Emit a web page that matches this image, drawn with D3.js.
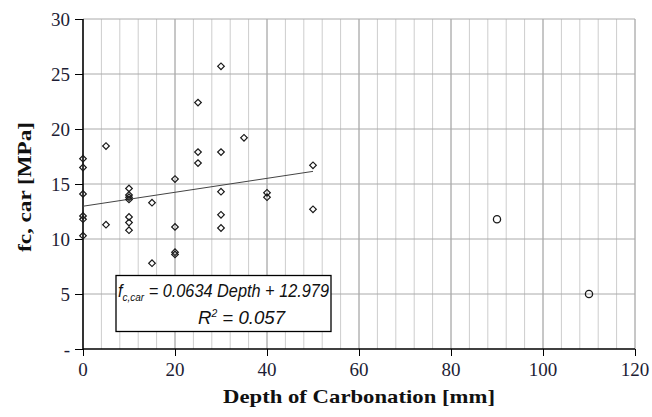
<!DOCTYPE html>
<html>
<head>
<meta charset="utf-8">
<script src="https://cdn.jsdelivr.net/npm/d3@7"></script>
<style>
  html, body { margin: 0; padding: 0; background: #fff; }
  svg { display: block; }
</style>
</head>
<body>
<svg id="chart" width="652" height="417"></svg>
<script>
// ---- data ----
const depthDiamond = [0,0,0,0,0,0, 5,5, 10,10,10,10,10,10,10, 15,15, 20,20,20,20, 25,25,25, 30,30,30,30,30, 35, 40,40, 50,50];
const fcDiamond    = [17.3,16.5,14.1,12.1,11.8,10.3, 18.45,11.3, 14.6,14.0,13.8,13.6,12.0,11.5,10.8, 13.3,7.8, 15.45,11.1,8.8,8.6, 22.4,17.9,16.9, 25.7,17.9,14.3,12.2,11.0, 19.2, 14.2,13.8, 16.7,12.7];
const depthCircle  = [90, 110];
const fcCircle     = [11.8, 5.0];
const trendX       = [0, 50];
const slope = 0.0634, intercept = 12.979;
const xTicks = [0,20,40,60,80,100,120];
const yTicks = [0,5,10,15,20,25,30];
const yTickLabels = ["-","5","10","15","20","25","30"];
const xMinor = d3.range(0, 121, 4);

// ---- layout ----
const svg = d3.select("#chart");
const X0 = 83, X1 = 635, Y0 = 349, Y1 = 19;
const x = d3.scaleLinear().domain([0,120]).range([X0, X1]);
const y = d3.scaleLinear().domain([0,30]).range([Y0, Y1]);
const textCol = "#1d1d35";
const serif = "'Liberation Serif', 'Times New Roman', serif";

// minor vertical grid
svg.append("g").selectAll("line").data(xMinor.filter(v => v % 20 !== 0)).join("line")
  .attr("x1", d => x(d)).attr("x2", d => x(d)).attr("y1", Y0).attr("y2", Y1)
  .attr("stroke", "#cdcdcd").attr("stroke-width", 1);
// major vertical grid
svg.append("g").selectAll("line").data(xTicks.filter(v => v > 0)).join("line")
  .attr("x1", d => x(d)).attr("x2", d => x(d)).attr("y1", Y0).attr("y2", Y1)
  .attr("stroke", "#8e8e8e").attr("stroke-width", 1);
// horizontal grid
svg.append("g").selectAll("line").data(yTicks.filter(v => v > 0)).join("line")
  .attr("x1", X0).attr("x2", X1).attr("y1", d => y(d)).attr("y2", d => y(d))
  .attr("stroke", "#aaaaaa").attr("stroke-width", 1);

// axes (lines and tick marks)
const yAxis = d3.axisLeft(y).tickValues(yTicks).tickFormat("").tickSize(8);
const gy = svg.append("g").attr("transform", `translate(${X0},0)`).call(yAxis);
const xAxis = d3.axisBottom(x).tickValues(xTicks).tickFormat("").tickSize(7);
const gx = svg.append("g").attr("transform", `translate(0,${Y0})`).call(xAxis);
[gx, gy].forEach(g => {
  g.select(".domain").attr("stroke", "#000").attr("stroke-width", 1.6);
  g.selectAll(".tick line").attr("stroke", "#000").attr("stroke-width", 1);
});
gy.select(".domain").attr("d", `M0,${Y0}V${Y1}`);
gx.select(".domain").attr("d", `M${X0},0H${X1}`);

// tick labels
svg.append("g").selectAll("text").data(yTicks).join("text")
  .attr("x", X0 - 13).attr("y", d => y(d) + 6.5).attr("text-anchor", "end")
  .style("font-family", serif).style("font-size", "19px").attr("fill", textCol)
  .text((d,i) => yTickLabels[i]);
svg.append("g").selectAll("text").data(xTicks).join("text")
  .attr("x", d => x(d)).attr("y", 376).attr("text-anchor", "middle")
  .style("font-family", serif).style("font-size", "19px").attr("fill", textCol)
  .text(d => d);

// trend line
svg.append("line")
  .attr("x1", x(trendX[0])).attr("y1", y(intercept + slope*trendX[0]))
  .attr("x2", x(trendX[1])).attr("y2", y(intercept + slope*trendX[1]))
  .attr("stroke", "#444").attr("stroke-width", 1);

// diamonds
const dia = d3.symbol().type(d3.symbolSquare).size(22);
svg.append("g").selectAll("path").data(depthDiamond.map((d,i) => [d, fcDiamond[i]])).join("path")
  .attr("d", dia)
  .attr("transform", d => `translate(${x(d[0])},${y(d[1])}) rotate(45)`)
  .attr("fill", "none").attr("stroke", "#1a1a1a").attr("stroke-width", 1.2);

// circles
svg.append("g").selectAll("circle").data(depthCircle.map((d,i) => [d, fcCircle[i]])).join("circle")
  .attr("cx", d => x(d[0])).attr("cy", d => y(d[1])).attr("r", 3.6)
  .attr("fill", "none").attr("stroke", "#1a1a1a").attr("stroke-width", 1.3);

// equation box
svg.append("rect").attr("x", 116).attr("y", 275.5).attr("width", 215).attr("height", 56)
  .attr("fill", "#fff").attr("stroke", "#000").attr("stroke-width", 1.3);
const eqFont = "'Liberation Sans', Arial, sans-serif";
const t1 = svg.append("text").attr("x", 118).attr("y", 297)
  .attr("textLength", 211).attr("lengthAdjust", "spacingAndGlyphs")
  .style("font-family", eqFont).style("font-style", "italic").style("font-size", "18px").attr("fill", "#111");
t1.append("tspan").text("f");
t1.append("tspan").attr("dy", 4).style("font-size", "11px").text("c,car");
t1.append("tspan").attr("dy", -4).text(` = ${slope} Depth + ${intercept}`);
const t2 = svg.append("text").attr("x", 198).attr("y", 324)
  .attr("textLength", 87).attr("lengthAdjust", "spacingAndGlyphs")
  .style("font-family", eqFont).style("font-style", "italic").style("font-size", "18px").attr("fill", "#111");
t2.append("tspan").text("R");
t2.append("tspan").attr("dy", -7).style("font-size", "10px").text("2");
t2.append("tspan").attr("dy", 7).text(" = 0.057");

// axis titles
svg.append("text").attr("x", 223).attr("y", 403)
  .attr("textLength", 272).attr("lengthAdjust", "spacingAndGlyphs")
  .style("font-family", serif).style("font-weight", "bold").style("font-size", "19px")
  .attr("fill", "#111").text("Depth of Carbonation [mm]");
svg.append("text").attr("transform", "translate(31,252) rotate(-90)")
  .attr("textLength", 130).attr("lengthAdjust", "spacingAndGlyphs")
  .style("font-family", serif).style("font-weight", "bold").style("font-size", "19px")
  .attr("fill", "#111").text("fc, car [MPa]");
</script>
</body>
</html>
